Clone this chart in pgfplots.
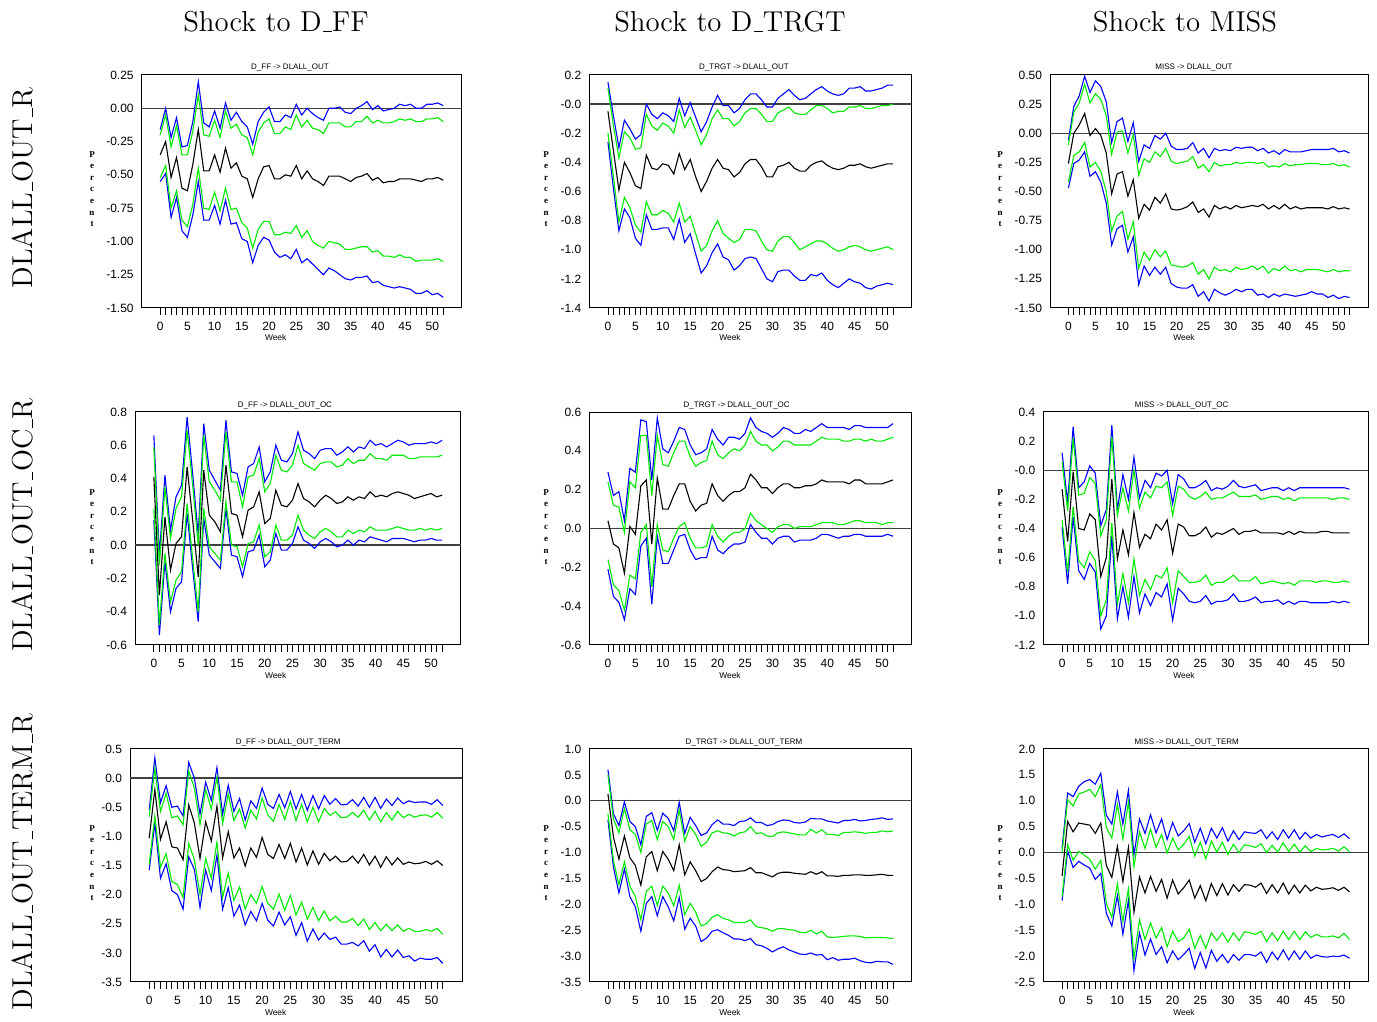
\documentclass[border=0pt]{standalone}
\usepackage{fontspec}
\usepackage{pgfplots}
\usepackage{pgfplotstable}
\pgfplotsset{compat=1.18}
\newfontfamily\sansf{Liberation Sans}
\newfontfamily\serff{Liberation Serif}
\newcommand\tickfont{\sansf\fontsize{6}{7}\selectfont}
\newcommand\us{\leavevmode\kern.06em\vbox{\hrule width.3em}}
\definecolor{eblue}{RGB}{0,0,255}
\definecolor{egreen}{RGB}{0,235,0}

\pgfplotstableread{
w lb lg c ug ub
0 -0.55 -0.52 -0.35 -0.20 -0.16
1 -0.49 -0.43 -0.25 -0.05 0.00
2 -0.82 -0.75 -0.52 -0.29 -0.22
3 -0.67 -0.62 -0.37 -0.13 -0.07
4 -0.92 -0.84 -0.60 -0.35 -0.29
5 -0.97 -0.89 -0.62 -0.35 -0.28
6 -0.80 -0.72 -0.42 -0.17 -0.10
7 -0.55 -0.45 -0.16 0.10 0.20
8 -0.84 -0.75 -0.47 -0.20 -0.11
9 -0.84 -0.76 -0.47 -0.21 -0.14
10 -0.73 -0.63 -0.35 -0.09 -0.02
11 -0.87 -0.77 -0.48 -0.22 -0.15
12 -0.69 -0.60 -0.30 -0.02 0.04
13 -0.87 -0.76 -0.45 -0.15 -0.09
14 -0.86 -0.75 -0.41 -0.12 -0.03
15 -0.98 -0.86 -0.51 -0.20 -0.10
16 -1.00 -0.90 -0.53 -0.22 -0.14
17 -1.16 -1.05 -0.67 -0.35 -0.27
18 -1.03 -0.91 -0.53 -0.18 -0.10
19 -0.97 -0.85 -0.44 -0.11 -0.03
20 -0.99 -0.85 -0.43 -0.08 0.01
21 -1.08 -0.95 -0.53 -0.19 -0.10
22 -1.12 -0.95 -0.53 -0.19 -0.10
23 -1.10 -0.93 -0.50 -0.14 -0.05
24 -1.13 -0.94 -0.51 -0.16 -0.07
25 -1.06 -0.88 -0.43 -0.05 0.03
26 -1.16 -0.97 -0.53 -0.14 -0.05
27 -1.13 -0.92 -0.47 -0.09 0.00
28 -1.17 -1.00 -0.53 -0.15 -0.04
29 -1.21 -1.03 -0.55 -0.16 -0.07
30 -1.25 -1.05 -0.58 -0.19 -0.09
31 -1.20 -1.00 -0.51 -0.11 0.00
32 -1.22 -1.01 -0.51 -0.11 0.00
33 -1.25 -1.02 -0.51 -0.11 0.01
34 -1.28 -1.06 -0.53 -0.14 -0.03
35 -1.29 -1.06 -0.55 -0.14 -0.04
36 -1.27 -1.05 -0.52 -0.10 0.00
37 -1.27 -1.04 -0.51 -0.10 0.02
38 -1.26 -1.04 -0.49 -0.06 0.05
39 -1.31 -1.08 -0.54 -0.11 -0.01
40 -1.30 -1.07 -0.52 -0.09 0.02
41 -1.33 -1.11 -0.56 -0.11 -0.02
42 -1.34 -1.11 -0.55 -0.11 -0.01
43 -1.35 -1.12 -0.55 -0.10 0.00
44 -1.34 -1.10 -0.53 -0.08 0.03
45 -1.35 -1.12 -0.53 -0.09 0.02
46 -1.36 -1.12 -0.53 -0.08 0.03
47 -1.39 -1.15 -0.54 -0.10 0.00
48 -1.39 -1.14 -0.55 -0.10 0.00
49 -1.37 -1.14 -0.53 -0.08 0.03
50 -1.40 -1.14 -0.53 -0.08 0.03
51 -1.39 -1.13 -0.52 -0.07 0.04
52 -1.42 -1.15 -0.54 -0.10 0.02
}\tAA

\pgfplotstableread{
w lb lg c ug ub
0 -0.26 -0.20 -0.05 0.11 0.15
1 -0.58 -0.50 -0.32 -0.15 -0.08
2 -0.87 -0.81 -0.59 -0.37 -0.30
3 -0.72 -0.64 -0.40 -0.19 -0.11
4 -0.78 -0.71 -0.47 -0.23 -0.17
5 -0.92 -0.83 -0.56 -0.31 -0.24
6 -0.97 -0.88 -0.58 -0.30 -0.21
7 -0.76 -0.67 -0.35 -0.07 0.00
8 -0.86 -0.76 -0.44 -0.15 -0.07
9 -0.86 -0.76 -0.45 -0.18 -0.10
10 -0.85 -0.73 -0.41 -0.13 -0.06
11 -0.85 -0.75 -0.42 -0.15 -0.08
12 -0.93 -0.81 -0.48 -0.20 -0.12
13 -0.79 -0.68 -0.34 -0.04 0.04
14 -0.95 -0.81 -0.45 -0.16 -0.08
15 -0.89 -0.77 -0.38 -0.09 0.01
16 -1.03 -0.89 -0.50 -0.18 -0.09
17 -1.16 -1.01 -0.60 -0.28 -0.19
18 -1.11 -0.97 -0.53 -0.21 -0.12
19 -1.02 -0.87 -0.44 -0.10 -0.02
20 -0.96 -0.80 -0.38 -0.04 0.06
21 -1.05 -0.89 -0.44 -0.10 -0.01
22 -1.07 -0.92 -0.45 -0.10 -0.01
23 -1.14 -0.95 -0.50 -0.15 -0.06
24 -1.11 -0.93 -0.47 -0.12 -0.03
25 -1.06 -0.86 -0.41 -0.06 0.03
26 -1.05 -0.86 -0.38 -0.03 0.07
27 -1.06 -0.87 -0.38 -0.03 0.07
28 -1.13 -0.94 -0.43 -0.07 0.03
29 -1.20 -1.00 -0.50 -0.12 -0.02
30 -1.22 -1.01 -0.50 -0.12 -0.02
31 -1.15 -0.94 -0.43 -0.06 0.04
32 -1.14 -0.91 -0.42 -0.04 0.07
33 -1.14 -0.91 -0.40 -0.02 0.10
34 -1.18 -0.95 -0.44 -0.06 0.06
35 -1.21 -1.00 -0.46 -0.07 0.03
36 -1.21 -0.98 -0.46 -0.07 0.04
37 -1.17 -0.96 -0.42 -0.04 0.07
38 -1.18 -0.94 -0.40 -0.01 0.10
39 -1.16 -0.94 -0.39 -0.01 0.12
40 -1.21 -0.96 -0.42 -0.03 0.09
41 -1.24 -0.99 -0.44 -0.06 0.07
42 -1.26 -1.01 -0.45 -0.05 0.06
43 -1.23 -1.00 -0.44 -0.05 0.07
44 -1.20 -0.98 -0.42 -0.02 0.11
45 -1.22 -0.97 -0.42 -0.02 0.11
46 -1.23 -0.98 -0.41 -0.01 0.12
47 -1.26 -1.00 -0.43 -0.03 0.09
48 -1.27 -1.01 -0.44 -0.03 0.09
49 -1.25 -1.00 -0.43 -0.02 0.10
50 -1.24 -0.99 -0.42 -0.01 0.11
51 -1.23 -0.98 -0.41 -0.01 0.13
52 -1.24 -1.00 -0.41 0.00 0.13
}\tAB

\pgfplotstableread{
w lb lg c ug ub
0 -0.47 -0.42 -0.26 -0.10 -0.06
1 -0.26 -0.19 0.00 0.18 0.23
2 -0.23 -0.16 0.07 0.26 0.32
3 -0.16 -0.08 0.17 0.42 0.49
4 -0.37 -0.29 -0.02 0.26 0.35
5 -0.33 -0.25 0.04 0.34 0.45
6 -0.42 -0.33 -0.02 0.29 0.40
7 -0.60 -0.50 -0.17 0.15 0.27
8 -0.96 -0.84 -0.52 -0.18 -0.08
9 -0.82 -0.71 -0.35 0.01 0.10
10 -0.79 -0.67 -0.33 0.02 0.13
11 -1.02 -0.91 -0.54 -0.17 -0.07
12 -0.89 -0.76 -0.40 -0.01 0.09
13 -1.30 -1.16 -0.73 -0.36 -0.24
14 -1.14 -1.02 -0.61 -0.22 -0.10
15 -1.22 -1.09 -0.66 -0.25 -0.13
16 -1.15 -1.00 -0.55 -0.16 -0.02
17 -1.21 -1.06 -0.60 -0.20 -0.05
18 -1.15 -1.01 -0.52 -0.13 0.00
19 -1.29 -1.13 -0.65 -0.24 -0.11
20 -1.32 -1.14 -0.66 -0.26 -0.14
21 -1.33 -1.15 -0.65 -0.25 -0.14
22 -1.33 -1.14 -0.63 -0.24 -0.13
23 -1.30 -1.11 -0.59 -0.20 -0.08
24 -1.40 -1.21 -0.68 -0.30 -0.17
25 -1.36 -1.17 -0.65 -0.27 -0.13
26 -1.44 -1.25 -0.72 -0.33 -0.21
27 -1.34 -1.15 -0.62 -0.25 -0.13
28 -1.37 -1.18 -0.65 -0.28 -0.15
29 -1.39 -1.17 -0.63 -0.27 -0.14
30 -1.37 -1.19 -0.65 -0.27 -0.15
31 -1.34 -1.15 -0.62 -0.25 -0.12
32 -1.36 -1.17 -0.64 -0.26 -0.13
33 -1.34 -1.16 -0.63 -0.25 -0.12
34 -1.34 -1.14 -0.62 -0.25 -0.12
35 -1.39 -1.17 -0.63 -0.26 -0.15
36 -1.38 -1.14 -0.61 -0.25 -0.13
37 -1.41 -1.20 -0.65 -0.29 -0.17
38 -1.38 -1.16 -0.62 -0.28 -0.15
39 -1.40 -1.18 -0.65 -0.29 -0.18
40 -1.38 -1.14 -0.61 -0.26 -0.14
41 -1.39 -1.18 -0.65 -0.28 -0.16
42 -1.40 -1.17 -0.63 -0.27 -0.16
43 -1.39 -1.19 -0.65 -0.27 -0.16
44 -1.38 -1.17 -0.64 -0.26 -0.15
45 -1.36 -1.17 -0.64 -0.26 -0.14
46 -1.38 -1.17 -0.64 -0.26 -0.14
47 -1.38 -1.18 -0.64 -0.27 -0.14
48 -1.41 -1.19 -0.65 -0.27 -0.14
49 -1.39 -1.17 -0.63 -0.26 -0.13
50 -1.42 -1.19 -0.65 -0.28 -0.16
51 -1.40 -1.18 -0.64 -0.27 -0.15
52 -1.41 -1.18 -0.65 -0.29 -0.17
}\tAC

\pgfplotstableread{
w lb lg c ug ub
0 0.15 0.22 0.41 0.59 0.66
1 -0.54 -0.48 -0.30 -0.12 -0.06
2 -0.10 -0.05 0.17 0.35 0.42
3 -0.40 -0.34 -0.15 0.04 0.09
4 -0.26 -0.21 0.01 0.22 0.29
5 -0.22 -0.16 0.05 0.29 0.36
6 0.19 0.25 0.47 0.69 0.77
7 -0.14 -0.08 0.15 0.36 0.43
8 -0.46 -0.40 -0.19 0.00 0.06
9 0.16 0.22 0.45 0.66 0.73
10 -0.06 -0.01 0.18 0.38 0.45
11 -0.10 -0.05 0.14 0.33 0.39
12 -0.14 -0.09 0.08 0.27 0.33
13 0.22 0.26 0.48 0.68 0.75
14 -0.06 0.00 0.19 0.38 0.44
15 -0.07 -0.01 0.18 0.38 0.43
16 -0.19 -0.13 0.05 0.23 0.30
17 -0.04 0.01 0.21 0.41 0.47
18 -0.03 0.02 0.23 0.42 0.49
19 0.06 0.12 0.32 0.52 0.59
20 -0.13 -0.07 0.13 0.32 0.38
21 -0.09 -0.04 0.16 0.37 0.44
22 0.07 0.12 0.33 0.54 0.60
23 -0.03 0.03 0.24 0.45 0.51
24 -0.03 0.03 0.23 0.44 0.50
25 0.01 0.06 0.27 0.48 0.55
26 0.11 0.18 0.37 0.60 0.68
27 0.03 0.09 0.28 0.49 0.57
28 0.01 0.06 0.26 0.47 0.55
29 -0.02 0.04 0.23 0.45 0.52
30 0.02 0.08 0.27 0.49 0.57
31 0.04 0.10 0.30 0.50 0.58
32 0.02 0.08 0.28 0.50 0.58
33 -0.01 0.05 0.25 0.47 0.54
34 0.00 0.05 0.26 0.48 0.56
35 0.03 0.09 0.29 0.52 0.59
36 0.00 0.07 0.27 0.49 0.56
37 0.03 0.09 0.29 0.51 0.59
38 0.02 0.08 0.28 0.51 0.58
39 0.05 0.11 0.32 0.55 0.63
40 0.04 0.09 0.29 0.52 0.60
41 0.03 0.09 0.30 0.52 0.61
42 0.02 0.09 0.29 0.51 0.59
43 0.04 0.10 0.31 0.54 0.61
44 0.04 0.11 0.32 0.54 0.63
45 0.04 0.10 0.31 0.54 0.62
46 0.03 0.09 0.30 0.52 0.60
47 0.02 0.09 0.28 0.52 0.61
48 0.03 0.10 0.29 0.53 0.61
49 0.03 0.09 0.30 0.53 0.61
50 0.04 0.10 0.31 0.53 0.62
51 0.03 0.09 0.29 0.53 0.61
52 0.03 0.10 0.30 0.54 0.63
}\tBA

\pgfplotstableread{
w lb lg c ug ub
0 -0.21 -0.16 0.04 0.24 0.29
1 -0.35 -0.29 -0.08 0.12 0.17
2 -0.38 -0.32 -0.10 0.11 0.19
3 -0.47 -0.42 -0.23 -0.02 0.04
4 -0.31 -0.24 0.01 0.24 0.31
5 -0.34 -0.26 -0.03 0.21 0.29
6 -0.09 -0.02 0.22 0.48 0.56
7 -0.05 0.02 0.25 0.48 0.55
8 -0.39 -0.30 -0.08 0.17 0.25
9 -0.04 0.02 0.26 0.48 0.57
10 -0.18 -0.11 0.10 0.33 0.41
11 -0.18 -0.12 0.10 0.32 0.39
12 -0.11 -0.05 0.17 0.39 0.45
13 -0.04 0.01 0.23 0.45 0.52
14 -0.03 0.03 0.23 0.45 0.51
15 -0.11 -0.05 0.14 0.37 0.43
16 -0.16 -0.10 0.09 0.32 0.38
17 -0.15 -0.10 0.12 0.34 0.39
18 -0.15 -0.09 0.13 0.35 0.41
19 -0.04 0.02 0.23 0.45 0.51
20 -0.11 -0.04 0.17 0.38 0.46
21 -0.13 -0.07 0.14 0.36 0.43
22 -0.10 -0.04 0.17 0.39 0.47
23 -0.08 -0.02 0.19 0.41 0.47
24 -0.08 -0.02 0.19 0.40 0.46
25 -0.07 0.00 0.21 0.43 0.49
26 0.02 0.08 0.28 0.50 0.57
27 -0.02 0.04 0.25 0.45 0.52
28 -0.05 0.02 0.21 0.43 0.50
29 -0.05 0.00 0.21 0.43 0.49
30 -0.08 -0.02 0.18 0.40 0.47
31 -0.05 0.01 0.21 0.42 0.49
32 -0.04 0.02 0.23 0.45 0.52
33 -0.04 0.02 0.23 0.45 0.51
34 -0.07 0.00 0.21 0.43 0.49
35 -0.06 0.01 0.21 0.43 0.49
36 -0.06 0.01 0.22 0.43 0.51
37 -0.06 0.01 0.22 0.43 0.50
38 -0.05 0.02 0.23 0.45 0.52
39 -0.03 0.03 0.25 0.47 0.54
40 -0.03 0.03 0.24 0.46 0.52
41 -0.04 0.03 0.24 0.46 0.52
42 -0.05 0.02 0.24 0.46 0.52
43 -0.04 0.02 0.24 0.45 0.52
44 -0.04 0.03 0.23 0.45 0.51
45 -0.03 0.04 0.25 0.46 0.53
46 -0.03 0.04 0.25 0.46 0.53
47 -0.04 0.03 0.23 0.45 0.52
48 -0.04 0.03 0.23 0.46 0.52
49 -0.04 0.03 0.23 0.45 0.52
50 -0.04 0.02 0.23 0.45 0.52
51 -0.03 0.03 0.24 0.46 0.52
52 -0.04 0.03 0.25 0.47 0.54
}\tBB

\pgfplotstableread{
w lb lg c ug ub
0 -0.39 -0.34 -0.13 0.06 0.12
1 -0.78 -0.70 -0.49 -0.28 -0.22
2 -0.32 -0.25 -0.01 0.22 0.30
3 -0.69 -0.62 -0.40 -0.17 -0.12
4 -0.75 -0.67 -0.41 -0.16 -0.08
5 -0.64 -0.56 -0.30 -0.05 0.03
6 -0.70 -0.62 -0.34 -0.09 -0.02
7 -1.09 -1.00 -0.73 -0.45 -0.38
8 -1.00 -0.89 -0.60 -0.34 -0.27
9 -0.45 -0.36 -0.06 0.23 0.31
10 -1.02 -0.92 -0.61 -0.31 -0.27
11 -0.80 -0.71 -0.41 -0.12 -0.03
12 -1.01 -0.91 -0.58 -0.28 -0.20
13 -0.73 -0.61 -0.29 0.00 0.09
14 -0.98 -0.86 -0.53 -0.26 -0.19
15 -0.85 -0.75 -0.44 -0.15 -0.07
16 -0.93 -0.82 -0.47 -0.19 -0.12
17 -0.84 -0.72 -0.37 -0.11 -0.02
18 -0.87 -0.74 -0.41 -0.12 -0.04
19 -0.78 -0.67 -0.34 -0.08 0.00
20 -1.03 -0.91 -0.57 -0.31 -0.23
21 -0.81 -0.69 -0.37 -0.11 -0.03
22 -0.85 -0.73 -0.39 -0.13 -0.06
23 -0.90 -0.77 -0.45 -0.18 -0.12
24 -0.91 -0.77 -0.45 -0.20 -0.12
25 -0.90 -0.76 -0.43 -0.18 -0.10
26 -0.86 -0.72 -0.39 -0.15 -0.07
27 -0.92 -0.79 -0.46 -0.20 -0.14
28 -0.90 -0.77 -0.43 -0.19 -0.12
29 -0.90 -0.77 -0.44 -0.19 -0.13
30 -0.89 -0.75 -0.42 -0.17 -0.11
31 -0.85 -0.72 -0.40 -0.15 -0.07
32 -0.90 -0.76 -0.44 -0.18 -0.11
33 -0.90 -0.76 -0.42 -0.18 -0.12
34 -0.89 -0.76 -0.42 -0.18 -0.11
35 -0.87 -0.73 -0.41 -0.17 -0.10
36 -0.91 -0.78 -0.43 -0.20 -0.14
37 -0.90 -0.77 -0.43 -0.19 -0.13
38 -0.90 -0.76 -0.43 -0.18 -0.12
39 -0.89 -0.77 -0.43 -0.18 -0.12
40 -0.92 -0.78 -0.44 -0.20 -0.14
41 -0.90 -0.77 -0.42 -0.19 -0.12
42 -0.92 -0.79 -0.44 -0.21 -0.14
43 -0.90 -0.76 -0.42 -0.19 -0.12
44 -0.90 -0.76 -0.43 -0.19 -0.12
45 -0.91 -0.76 -0.43 -0.19 -0.12
46 -0.91 -0.77 -0.43 -0.19 -0.12
47 -0.91 -0.76 -0.42 -0.19 -0.12
48 -0.91 -0.76 -0.42 -0.19 -0.12
49 -0.90 -0.77 -0.43 -0.20 -0.12
50 -0.91 -0.77 -0.43 -0.19 -0.12
51 -0.90 -0.76 -0.43 -0.19 -0.12
52 -0.91 -0.77 -0.43 -0.20 -0.13
}\tBC

\pgfplotstableread{
w lb lg c ug ub
0 -1.58 -1.48 -1.03 -0.66 -0.55
1 -0.78 -0.65 -0.20 0.17 0.35
2 -1.72 -1.53 -1.05 -0.57 -0.42
3 -1.47 -1.30 -0.75 -0.26 -0.13
4 -1.93 -1.77 -1.18 -0.68 -0.50
5 -2.00 -1.83 -1.20 -0.65 -0.48
6 -2.25 -2.05 -1.40 -0.80 -0.65
7 -1.35 -1.12 -0.46 0.12 0.27
8 -1.57 -1.40 -0.77 -0.17 0.00
9 -2.22 -2.00 -1.38 -0.80 -0.62
10 -1.58 -1.38 -0.75 -0.20 -0.07
11 -1.93 -1.72 -1.08 -0.53 -0.38
12 -1.32 -1.10 -0.48 0.02 0.18
13 -2.25 -2.05 -1.37 -0.78 -0.62
14 -1.88 -1.63 -0.92 -0.27 -0.12
15 -2.37 -2.10 -1.37 -0.73 -0.57
16 -2.18 -1.87 -1.20 -0.53 -0.35
17 -2.52 -2.25 -1.51 -0.86 -0.72
18 -2.29 -2.00 -1.20 -0.55 -0.39
19 -2.45 -2.15 -1.36 -0.70 -0.52
20 -2.15 -1.86 -1.02 -0.34 -0.17
21 -2.44 -2.15 -1.31 -0.63 -0.45
22 -2.54 -2.25 -1.38 -0.74 -0.52
23 -2.30 -1.99 -1.14 -0.45 -0.28
24 -2.52 -2.27 -1.38 -0.71 -0.51
25 -2.38 -2.01 -1.12 -0.40 -0.23
26 -2.70 -2.35 -1.44 -0.73 -0.53
27 -2.48 -2.13 -1.20 -0.45 -0.28
28 -2.80 -2.42 -1.49 -0.75 -0.55
29 -2.59 -2.22 -1.25 -0.50 -0.30
30 -2.78 -2.45 -1.48 -0.75 -0.53
31 -2.66 -2.28 -1.29 -0.52 -0.30
32 -2.77 -2.45 -1.42 -0.64 -0.45
33 -2.73 -2.37 -1.34 -0.58 -0.35
34 -2.85 -2.47 -1.44 -0.68 -0.46
35 -2.85 -2.47 -1.43 -0.67 -0.45
36 -2.82 -2.41 -1.34 -0.59 -0.37
37 -2.88 -2.53 -1.46 -0.67 -0.48
38 -2.79 -2.42 -1.31 -0.55 -0.33
39 -2.97 -2.60 -1.49 -0.72 -0.50
40 -2.86 -2.48 -1.34 -0.57 -0.33
41 -3.07 -2.62 -1.53 -0.75 -0.52
42 -2.94 -2.51 -1.35 -0.59 -0.36
43 -3.07 -2.62 -1.49 -0.72 -0.47
44 -2.95 -2.52 -1.37 -0.57 -0.34
45 -3.08 -2.63 -1.48 -0.68 -0.44
46 -3.05 -2.58 -1.44 -0.62 -0.39
47 -3.14 -2.63 -1.47 -0.67 -0.42
48 -3.09 -2.63 -1.46 -0.64 -0.41
49 -3.11 -2.60 -1.43 -0.63 -0.41
50 -3.11 -2.63 -1.48 -0.67 -0.45
51 -3.08 -2.58 -1.42 -0.59 -0.37
52 -3.18 -2.68 -1.50 -0.69 -0.47
}\tCA

\pgfplotstableread{
w lb lg c ug ub
0 -0.37 -0.25 0.13 0.50 0.60
1 -1.28 -1.15 -0.70 -0.35 -0.25
2 -1.78 -1.62 -1.13 -0.62 -0.48
3 -1.32 -1.18 -0.68 -0.15 -0.02
4 -1.85 -1.65 -1.10 -0.56 -0.40
5 -2.05 -1.85 -1.25 -0.65 -0.50
6 -2.52 -2.30 -1.63 -1.00 -0.85
7 -1.98 -1.75 -1.08 -0.45 -0.30
8 -1.85 -1.65 -0.98 -0.38 -0.23
9 -2.22 -2.02 -1.35 -0.75 -0.57
10 -1.85 -1.65 -0.98 -0.40 -0.24
11 -2.05 -1.78 -1.13 -0.50 -0.34
12 -2.32 -2.03 -1.35 -0.75 -0.58
13 -1.87 -1.63 -0.85 -0.18 -0.03
14 -2.48 -2.20 -1.43 -0.78 -0.63
15 -2.27 -1.98 -1.18 -0.50 -0.32
16 -2.42 -2.15 -1.35 -0.65 -0.48
17 -2.72 -2.42 -1.56 -0.88 -0.67
18 -2.65 -2.37 -1.50 -0.80 -0.62
19 -2.52 -2.25 -1.37 -0.62 -0.46
20 -2.49 -2.20 -1.28 -0.58 -0.37
21 -2.55 -2.27 -1.33 -0.62 -0.45
22 -2.60 -2.30 -1.34 -0.63 -0.45
23 -2.67 -2.35 -1.37 -0.68 -0.48
24 -2.67 -2.35 -1.36 -0.62 -0.40
25 -2.70 -2.35 -1.35 -0.60 -0.39
26 -2.66 -2.30 -1.29 -0.50 -0.33
27 -2.78 -2.43 -1.39 -0.63 -0.42
28 -2.80 -2.45 -1.39 -0.62 -0.42
29 -2.85 -2.47 -1.43 -0.68 -0.48
30 -2.92 -2.52 -1.47 -0.69 -0.46
31 -2.86 -2.47 -1.40 -0.62 -0.40
32 -2.82 -2.47 -1.38 -0.60 -0.37
33 -2.88 -2.49 -1.38 -0.62 -0.38
34 -2.92 -2.50 -1.40 -0.64 -0.42
35 -2.96 -2.54 -1.41 -0.66 -0.43
36 -2.97 -2.55 -1.42 -0.66 -0.41
37 -2.94 -2.50 -1.37 -0.55 -0.34
38 -2.98 -2.57 -1.42 -0.62 -0.35
39 -2.97 -2.52 -1.37 -0.56 -0.35
40 -3.07 -2.63 -1.45 -0.65 -0.39
41 -3.03 -2.64 -1.45 -0.65 -0.41
42 -3.08 -2.63 -1.46 -0.67 -0.43
43 -3.06 -2.62 -1.44 -0.61 -0.38
44 -3.06 -2.61 -1.44 -0.61 -0.38
45 -3.04 -2.61 -1.43 -0.60 -0.36
46 -3.09 -2.62 -1.43 -0.61 -0.39
47 -3.12 -2.65 -1.44 -0.63 -0.38
48 -3.13 -2.64 -1.44 -0.61 -0.36
49 -3.10 -2.64 -1.43 -0.61 -0.35
50 -3.11 -2.64 -1.42 -0.58 -0.33
51 -3.11 -2.65 -1.44 -0.60 -0.36
52 -3.16 -2.66 -1.44 -0.58 -0.35
}\tCB

\pgfplotstableread{
w lb lg c ug ub
0 -0.93 -0.85 -0.45 0.00 0.08
1 0.03 0.15 0.60 1.02 1.15
2 -0.29 -0.15 0.40 0.90 1.08
3 -0.17 0.02 0.57 1.13 1.28
4 -0.24 -0.05 0.55 1.17 1.37
5 -0.30 -0.13 0.53 1.22 1.41
6 -0.52 -0.32 0.37 1.08 1.32
7 -0.40 -0.15 0.57 1.31 1.53
8 -1.17 -0.98 -0.25 0.48 0.72
9 -1.42 -1.25 -0.48 0.28 0.55
10 -0.83 -0.60 0.12 0.93 1.17
11 -1.58 -1.33 -0.56 0.26 0.55
12 -0.92 -0.70 0.10 0.98 1.20
13 -2.28 -2.05 -1.15 -0.27 -0.05
14 -1.55 -1.30 -0.47 0.40 0.65
15 -1.98 -1.68 -0.78 0.08 0.37
16 -1.67 -1.36 -0.46 0.45 0.73
17 -1.97 -1.65 -0.75 0.10 0.38
18 -1.82 -1.45 -0.52 0.35 0.65
19 -2.13 -1.82 -0.88 -0.01 0.25
20 -1.90 -1.52 -0.53 0.28 0.58
21 -2.07 -1.72 -0.80 0.05 0.32
22 -1.97 -1.65 -0.68 0.16 0.42
23 -1.85 -1.48 -0.53 0.31 0.56
24 -2.24 -1.85 -0.88 -0.07 0.20
25 -1.93 -1.60 -0.64 0.20 0.47
26 -2.23 -1.85 -0.93 -0.12 0.17
27 -1.89 -1.55 -0.60 0.22 0.47
28 -2.10 -1.70 -0.83 0.01 0.28
29 -1.97 -1.55 -0.60 0.20 0.48
30 -2.13 -1.73 -0.82 -0.04 0.22
31 -1.97 -1.55 -0.62 0.16 0.42
32 -2.08 -1.70 -0.75 0.00 0.25
33 -1.97 -1.53 -0.62 0.15 0.40
34 -1.97 -1.55 -0.63 0.13 0.38
35 -2.00 -1.58 -0.67 0.10 0.37
36 -1.92 -1.52 -0.59 0.17 0.44
37 -2.12 -1.72 -0.79 0.00 0.27
38 -1.92 -1.55 -0.62 0.14 0.40
39 -2.07 -1.70 -0.78 0.01 0.25
40 -1.88 -1.52 -0.59 0.19 0.44
41 -2.07 -1.68 -0.80 0.02 0.28
42 -1.90 -1.52 -0.63 0.16 0.44
43 -2.06 -1.68 -0.78 0.01 0.26
44 -1.90 -1.53 -0.63 0.13 0.39
45 -2.04 -1.64 -0.74 0.02 0.28
46 -1.98 -1.58 -0.67 0.08 0.35
47 -2.01 -1.63 -0.71 0.05 0.30
48 -2.02 -1.63 -0.70 0.06 0.33
49 -2.00 -1.61 -0.68 0.08 0.35
50 -2.01 -1.65 -0.73 0.03 0.29
51 -1.98 -1.56 -0.67 0.11 0.36
52 -2.04 -1.68 -0.76 0.02 0.27
}\tCC

\pgfplotsset{
  irf/.style={
    scale only axis, height=116.5pt, anchor=south west,
    xmin=-3.4, xmax=55.4,
    xtick={0,5,...,50},
    xticklabels={0,5,10,15,20,25,30,35,40,45,50},
    minor xtick={0,1,...,52},
    xtick pos=bottom, ytick pos=left,
    tick align=outside,
    major tick length=3.5pt, minor tick length=3.5pt,
    xtick style={black, line width=0.4pt},
    ytick style={draw=none},
    axis line style={black, line width=0.5pt},
    tick label style={font=\tickfont, black},
    yticklabel style={xshift=3pt},
    clip=true,
  },
  bl/.style={eblue, line width=0.55pt, forget plot},
  gr/.style={egreen, line width=0.55pt, forget plot},
  bk/.style={black, line width=0.55pt, forget plot},
  zl/.style={black!75, line width=0.7pt, forget plot},
}
\newcommand\irf[1]{%
  \addplot[zl] coordinates {(-3.4,0) (55.4,0)};
  \addplot[bl] table[x=w,y=lb]{#1};
  \addplot[bl] table[x=w,y=ub]{#1};
  \addplot[gr] table[x=w,y=lg]{#1};
  \addplot[gr] table[x=w,y=ug]{#1};
  \addplot[bk] table[x=w,y=c]{#1};
}
\newcommand\ptitle{\sansf\fontsize{4}{5}\selectfont}
\newcommand\wk{\sansf\fontsize{4.2}{5}\selectfont}
\newcommand\pct{\serff\bfseries\fontsize{4.5}{5.8}\selectfont}

\begin{document}
\begin{tikzpicture}
\path[use as bounding box] (0,0) rectangle (688.5pt,511pt);

% column titles
\node[font=\Large] at (138pt,500pt) {Shock to D\us FF};
\node[font=\Large] at (365pt,500pt) {Shock to D\us TRGT};
\node[font=\Large] at (592.5pt,500pt) {Shock to MISS};
% row labels
\node[font=\Large, rotate=90] at (11.5pt,417pt) {DLALL\us OUT\us R};
\node[font=\Large, rotate=90] at (11.5pt,248.5pt) {DLALL\us OUT\us OC\us R};
\node[font=\Large, rotate=90] at (11.5pt,80pt) {DLALL\us OUT\us TERM\us R};

% Row 1
\begin{axis}[irf, at={(70.85pt,357pt)}, width=160pt,
  ymin=-1.5, ymax=0.25,
  ytick={-1.5,-1.25,-1,-0.75,-0.5,-0.25,0,0.25},
  yticklabels={-1.50,-1.25,-1.00,-0.75,-0.50,-0.25,0.00,0.25}]
\irf{\tAA}
\end{axis}
\begin{axis}[irf, at={(294.65pt,357pt)}, width=161.2pt,
  ymin=-1.4, ymax=0.2,
  ytick={-1.4,-1.2,-1,-0.8,-0.6,-0.4,-0.2,0,0.2},
  yticklabels={-1.4,-1.2,-1.0,-0.8,-0.6,-0.4,-0.2,-0.0,0.2}]
\irf{\tAB}
\end{axis}
\begin{axis}[irf, at={(525pt,357pt)}, width=159pt,
  ymin=-1.5, ymax=0.5,
  ytick={-1.5,-1.25,-1,-0.75,-0.5,-0.25,0,0.25,0.5},
  yticklabels={-1.50,-1.25,-1.00,-0.75,-0.50,-0.25,0.00,0.25,0.50}]
\irf{\tAC}
\end{axis}

% Row 2
\begin{axis}[irf, at={(67.5pt,188.5pt)}, width=163pt,
  ymin=-0.6, ymax=0.8,
  ytick={-0.6,-0.4,-0.2,0,0.2,0.4,0.6,0.8},
  yticklabels={-0.6,-0.4,-0.2,0.0,0.2,0.4,0.6,0.8}]
\irf{\tBA}
\end{axis}
\begin{axis}[irf, at={(294.65pt,188.5pt)}, width=161.2pt,
  ymin=-0.6, ymax=0.6,
  ytick={-0.6,-0.4,-0.2,0,0.2,0.4,0.6},
  yticklabels={-0.6,-0.4,-0.2,0.0,0.2,0.4,0.6}]
\irf{\tBB}
\end{axis}
\begin{axis}[irf, at={(521.65pt,188.5pt)}, width=162.5pt,
  ymin=-1.2, ymax=0.4,
  ytick={-1.2,-1,-0.8,-0.6,-0.4,-0.2,0,0.2,0.4},
  yticklabels={-1.2,-1.0,-0.8,-0.6,-0.4,-0.2,-0.0,0.2,0.4}]
\irf{\tBC}
\end{axis}

% Row 3
\begin{axis}[irf, at={(65pt,20pt)}, width=166pt,
  ymin=-3.5, ymax=0.5,
  ytick={-3.5,-3,-2.5,-2,-1.5,-1,-0.5,0,0.5},
  yticklabels={-3.5,-3.0,-2.5,-2.0,-1.5,-1.0,-0.5,0.0,0.5}]
\irf{\tCA}
\end{axis}
\begin{axis}[irf, at={(294.65pt,20pt)}, width=161.2pt,
  ymin=-3.5, ymax=1.0,
  ytick={-3.5,-3,-2.5,-2,-1.5,-1,-0.5,0,0.5,1},
  yticklabels={-3.5,-3.0,-2.5,-2.0,-1.5,-1.0,-0.5,0.0,0.5,1.0}]
\irf{\tCB}
\end{axis}
\begin{axis}[irf, at={(521.65pt,20pt)}, width=162.5pt,
  ymin=-2.5, ymax=2.0,
  ytick={-2.5,-2,-1.5,-1,-0.5,0,0.5,1,1.5,2},
  yticklabels={-2.5,-2.0,-1.5,-1.0,-0.5,0.0,0.5,1.0,1.5,2.0}]
\irf{\tCC}
\end{axis}

% panel titles
\node[font=\ptitle] at (145pt,477.35pt) {D\_FF -> DLALL\_OUT};
\node[font=\ptitle] at (372pt,477.35pt) {D\_TRGT -> DLALL\_OUT};
\node[font=\ptitle] at (597pt,477.35pt) {MISS -> DLALL\_OUT};
\node[font=\ptitle] at (142.5pt,308pt) {D\_FF -> DLALL\_OUT\_OC};
\node[font=\ptitle] at (368.35pt,308pt) {D\_TRGT -> DLALL\_OUT\_OC};
\node[font=\ptitle] at (590.85pt,308pt) {MISS -> DLALL\_OUT\_OC};
\node[font=\ptitle] at (144.15pt,139.85pt) {D\_FF -> DLALL\_OUT\_TERM};
\node[font=\ptitle] at (372pt,139.85pt) {D\_TRGT -> DLALL\_OUT\_TERM};
\node[font=\ptitle] at (593.35pt,139.85pt) {MISS -> DLALL\_OUT\_TERM};

% Week labels
\foreach \yy in {342pt,173.15pt,4.5pt}{
  \node[font=\wk] at (137.85pt,\yy) {Week};
  \node[font=\wk] at (365pt,\yy) {Week};
  \node[font=\wk] at (592pt,\yy) {Week};
}
% Percent labels
\foreach \yy in {416.5pt,247.5pt,79.5pt}{
  \node[font=\pct, align=center, inner sep=0pt] at (46pt,\yy) {P\\e\\r\\c\\e\\n\\t};
  \node[font=\pct, align=center, inner sep=0pt] at (273pt,\yy) {P\\e\\r\\c\\e\\n\\t};
  \node[font=\pct, align=center, inner sep=0pt] at (500pt,\yy) {P\\e\\r\\c\\e\\n\\t};
}
\end{tikzpicture}
\end{document}
